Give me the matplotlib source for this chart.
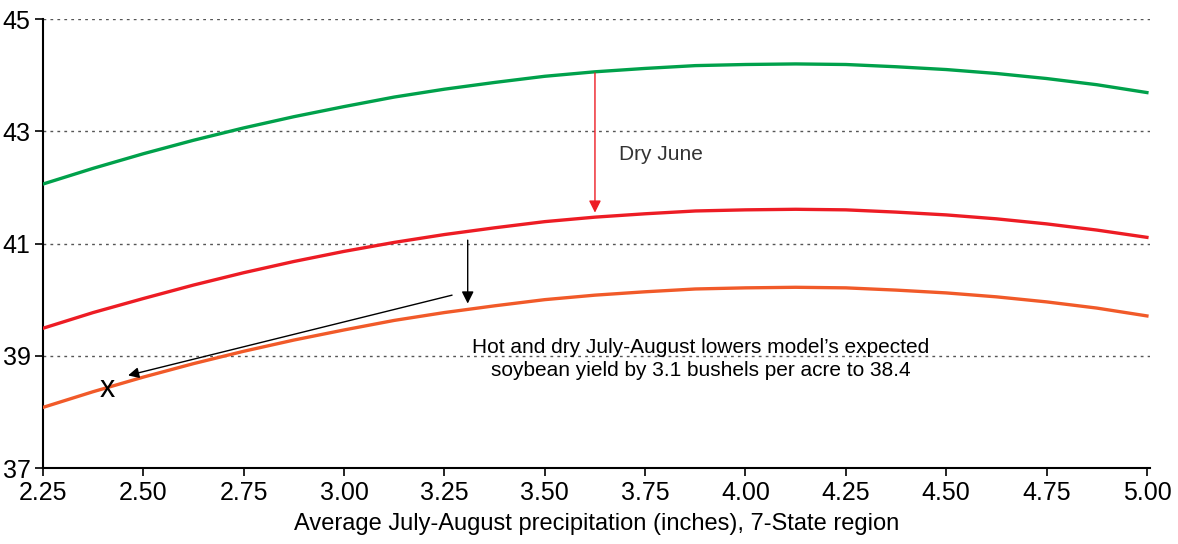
import numpy as np
import matplotlib.pyplot as plt

## precipitation values (inches) on the x axis
precip = [2.25, 2.375, 2.50, 2.625, 2.75, 2.875, 3.00, 3.125, 3.25, 3.375, 3.50, 3.625,
          3.75, 3.875, 4.00, 4.125, 4.25, 4.375, 4.50, 4.625, 4.75, 4.875, 5.00]
## expected soybean yield (bushels per acre)
normal = [42.06, 42.34, 42.60, 42.84, 43.06, 43.26, 43.44, 43.61, 43.75, 43.87, 43.98, 44.06,
          44.12, 44.17, 44.19, 44.20, 44.19, 44.15, 44.10, 44.03, 43.94, 43.83, 43.69]
dry_june = [39.49, 39.77, 40.02, 40.26, 40.48, 40.68, 40.86, 41.02, 41.16, 41.28, 41.39, 41.47,
            41.53, 41.58, 41.60, 41.61, 41.60, 41.56, 41.51, 41.44, 41.35, 41.24, 41.11]
hot_dry = [38.08, 38.36, 38.62, 38.86, 39.08, 39.28, 39.46, 39.63, 39.77, 39.89, 40.00, 40.08,
           40.14, 40.19, 40.21, 40.22, 40.21, 40.17, 40.12, 40.05, 39.96, 39.85, 39.71]

xticks = [2.25, 2.50, 2.75, 3.00, 3.25, 3.50, 3.75, 4.00, 4.25, 4.50, 4.75, 5.00]
yticks = [37, 39, 41, 43, 45]

## the point marked with an x
mark_x, mark_y = 2.41, 38.4

plt.rcParams['font.family'] = ['Liberation Sans', 'DejaVu Sans']

fig = plt.figure(figsize=(11.78, 5.44), dpi=100)
ax = fig.add_axes([0.0365, 0.1397, 0.9395, 0.8253])

for yv in yticks[1:]:
    ax.axhline(yv, color='#555555', lw=1, ls=(0, (2, 3)), zorder=1)

ax.plot(precip, normal, color='#00a14b', lw=2.4, zorder=3)
ax.plot(precip, dry_june, color='#ed1c24', lw=2.4, zorder=3)
ax.plot(precip, hot_dry, color='#f15a29', lw=2.4, zorder=3)

## arrows
ax.annotate('', xy=(3.625, 41.55), xytext=(3.625, 44.04),
            arrowprops=dict(arrowstyle='-|>', color='#ed1c24', lw=1, mutation_scale=18,
                            shrinkA=0, shrinkB=0))
ax.annotate('', xy=(3.308, 39.93), xytext=(3.308, 41.06),
            arrowprops=dict(arrowstyle='-|>', color='black', lw=1, mutation_scale=18,
                            shrinkA=0, shrinkB=0))
ax.annotate('', xy=(2.462, 38.65), xytext=(3.269, 40.08),
            arrowprops=dict(arrowstyle='-|>', color='black', lw=1, mutation_scale=16,
                            shrinkA=0, shrinkB=0))

ax.text(3.685, 42.58, 'Dry June', fontsize=15, color='#333333', va='center', ha='left')
ax.text(3.889, 38.94, "Hot and dry July-August lowers model\u2019s expected\n"
        "soybean yield by 3.1 bushels per acre to 38.4",
        fontsize=15, color='black', ha='center', va='center', linespacing=1.3)
ax.text(mark_x, mark_y, 'x', fontsize=22, ha='center', va='center', color='black', zorder=4)

ax.set_xlim(2.25, 5.007)
ax.set_ylim(37, 45)
ax.set_xticks(xticks)
ax.set_xticklabels([f"{v:.2f}" for v in xticks])
ax.set_yticks(yticks)
ax.tick_params(axis='both', labelsize=18, length=6, width=1.2, direction='out', pad=3)
ax.set_xlabel('Average July-August precipitation (inches), 7-State region', fontsize=17, labelpad=6)

for s in ['top', 'right']:
    ax.spines[s].set_visible(False)
for s in ['left', 'bottom']:
    ax.spines[s].set_linewidth(1.5)

fig.savefig('out.png', dpi=100)
